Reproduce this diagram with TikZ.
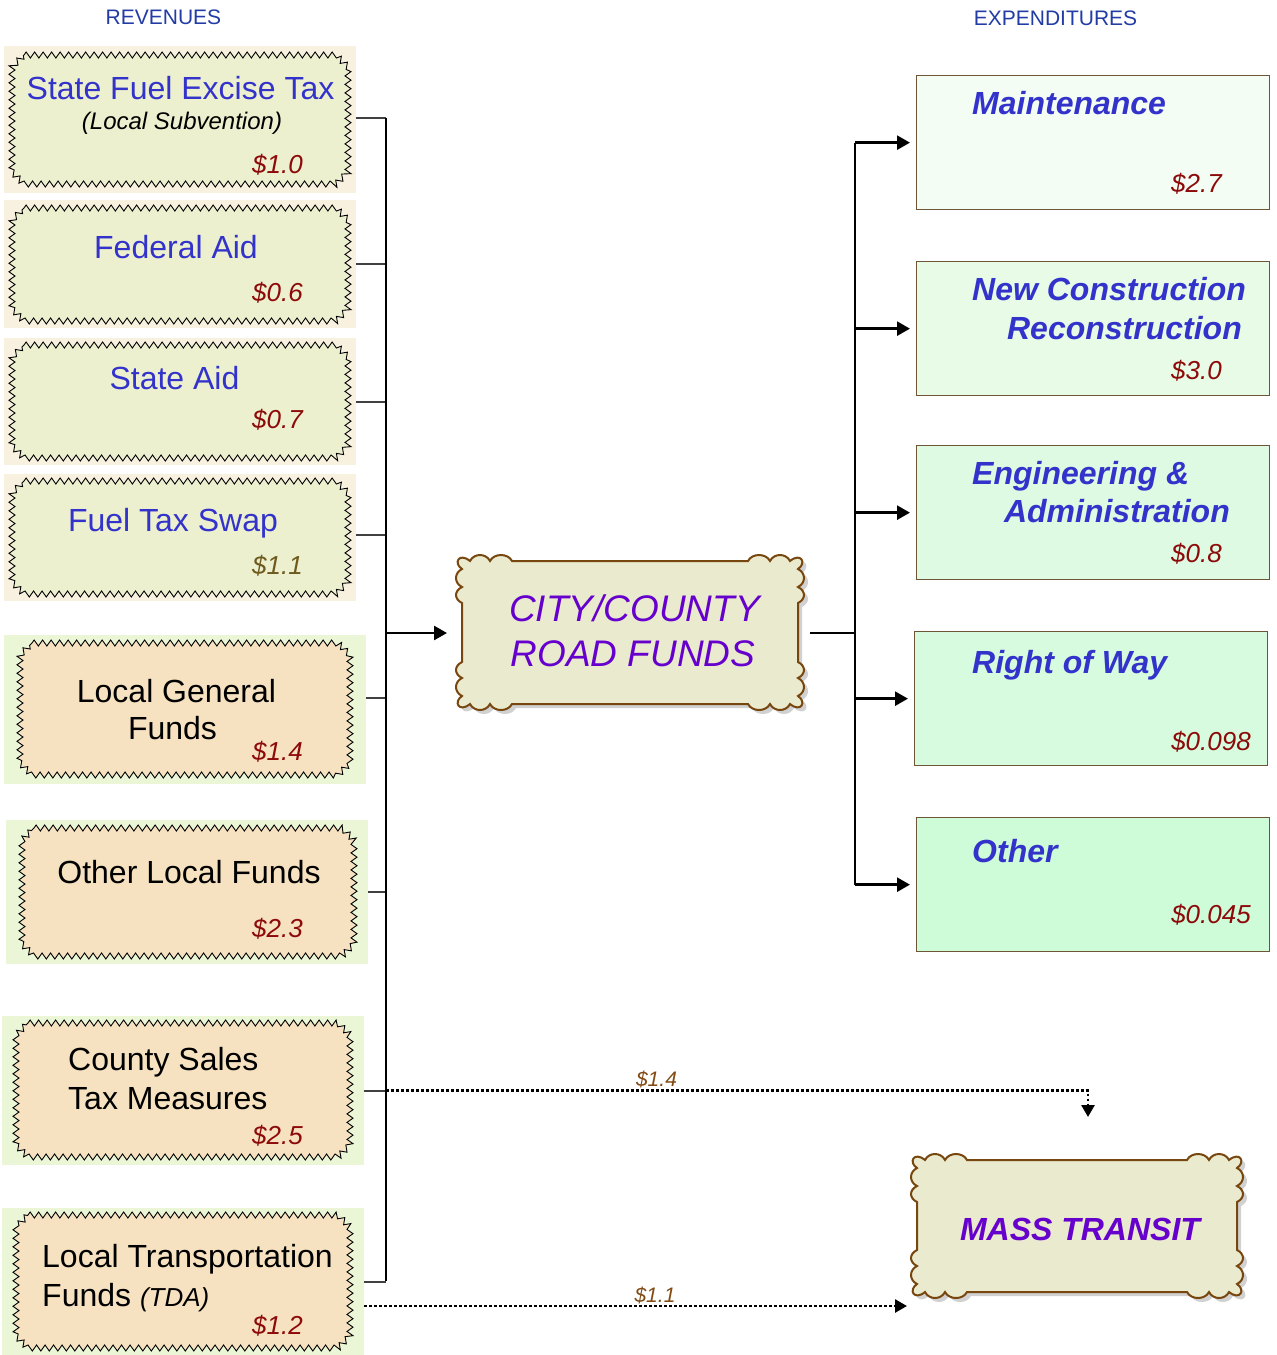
\documentclass[tikz,border=0pt]{standalone}
\usepackage{fontspec}
\setmainfont{Liberation Sans}
\usetikzlibrary{arrows.meta,decorations.pathmorphing,calc}
\definecolor{revblue}{RGB}{51,51,204}
\definecolor{hdrblue}{RGB}{35,60,165}
\definecolor{amtred}{RGB}{140,10,10}
\definecolor{amtolive}{RGB}{110,90,30}
\definecolor{purp}{RGB}{102,0,204}
\definecolor{scrollbrown}{RGB}{120,70,15}
\definecolor{scrollfill}{RGB}{234,234,206}
\definecolor{outerbeige}{RGB}{249,241,224}
\definecolor{innerpale}{RGB}{236,240,206}
\definecolor{outergreen}{RGB}{234,246,214}
\definecolor{innerwheat}{RGB}{246,226,192}
\definecolor{expborder}{RGB}{110,85,55}
\definecolor{expA}{RGB}{243,253,243}
\definecolor{expB}{RGB}{231,251,231}
\definecolor{expC}{RGB}{222,250,226}
\definecolor{expD}{RGB}{214,251,222}
\definecolor{expE}{RGB}{206,252,216}
\definecolor{lblbrown}{RGB}{130,75,20}
\newcommand\scrollshape[3]{%
\path[#3] (0,8) .. controls (-9,2) and (-3,-9) .. (8,0)
 .. controls (12,-8) and (24,-8) .. (28,0)
 .. controls (32,-8) and (46,-8) .. (50,0)
 -- ({#1-50},0)
 .. controls ({#1-46},-8) and ({#1-32},-8) .. ({#1-28},0)
 .. controls ({#1-24},-8) and ({#1-12},-8) .. ({#1-8},0)
 .. controls ({#1+3},-9) and ({#1+9},2) .. (#1,8)
 .. controls ({#1+8},12) and ({#1+8},22) .. (#1,26)
 .. controls ({#1+8},30) and ({#1+8},38) .. (#1,42)
 -- (#1,{#2-42})
 .. controls ({#1+8},{#2-38}) and ({#1+8},{#2-30}) .. (#1,{#2-26})
 .. controls ({#1+8},{#2-22}) and ({#1+8},{#2-12}) .. (#1,{#2-8})
 .. controls ({#1+9},{#2-2}) and ({#1+3},{#2+9}) .. ({#1-8},#2)
 .. controls ({#1-12},{#2+8}) and ({#1-24},{#2+8}) .. ({#1-28},#2)
 .. controls ({#1-32},{#2+8}) and ({#1-46},{#2+8}) .. ({#1-50},#2)
 -- (50,#2)
 .. controls (46,{#2+8}) and (32,{#2+8}) .. (28,#2)
 .. controls (24,{#2+8}) and (12,{#2+8}) .. (8,#2)
 .. controls (-3,{#2+9}) and (-9,{#2-2}) .. (0,{#2-8})
 .. controls (-8,{#2-12}) and (-8,{#2-22}) .. (0,{#2-26})
 .. controls (-8,{#2-30}) and (-8,{#2-38}) .. (0,{#2-42})
 -- (0,42)
 .. controls (-8,38) and (-8,30) .. (0,26)
 .. controls (-8,22) and (-8,12) .. (0,8) -- cycle;}
\newcommand\zigbox[5]{%
\filldraw[zz, fill=#5] ({#1+12},#2) -- ({#3-12},#2) -- (#3,{#2+12}) -- (#3,{#4-12})
 -- ({#3-12},#4) -- ({#1+12},#4) -- (#1,{#4-12}) -- (#1,{#2+12}) -- cycle;}
\begin{document}
\begin{tikzpicture}[x=1pt,y=-1pt,
  zz/.style={draw=black, line width=0.9pt, decorate,
     decoration={zigzag, segment length=8.5pt, amplitude=3pt}},
  outerbox/.style={draw=none, inner sep=0, anchor=north west},
  expbox/.style={draw=expborder, line width=1.3pt, inner sep=0, anchor=north west,
     minimum width=353pt, minimum height=134pt},
  hdr/.style={inner sep=0, anchor=base, text=hdrblue, font=\fontsize{21}{25}\selectfont},
  rt/.style={inner sep=0, anchor=base, text=revblue, font=\fontsize{32}{38}\selectfont},
  lt/.style={inner sep=0, anchor=base, text=black, font=\fontsize{32}{38}\selectfont},
  sub/.style={inner sep=0, anchor=base, text=black, font=\fontsize{24}{28}\selectfont\itshape},
  amt/.style={inner sep=0, anchor=base west, text=amtred, font=\fontsize{26}{30}\selectfont\itshape},
  et/.style={inner sep=0, anchor=base west, text=revblue, font=\fontsize{32}{38}\selectfont\bfseries\itshape},
  eamt/.style={inner sep=0, anchor=base east, text=amtred, font=\fontsize{26}{30}\selectfont\itshape},
  st/.style={inner sep=0, anchor=base, text=purp},
  flow/.style={inner sep=0, anchor=base, text=lblbrown, font=\fontsize{21}{24}\selectfont\itshape},
  stub/.style={draw=black!75, line width=1.6pt},
  bus/.style={draw=black, line width=1.8pt},
  arr/.style={draw=black, line width=2.6pt, -{Triangle[length=13pt,width=14pt]}},
  dotarr/.style={draw=black, line width=2.6pt, dash pattern=on 2.6pt off 2.4pt,
     -{Triangle[length=12pt,width=13pt]}}
]
\useasboundingbox (0,0) rectangle (1277,1355);
\fill[white] (0,0) rectangle (1277,1355);

% headers
\node[hdr] (hrev) at (163.5,24.5) {REVENUES};
\node[hdr] (hexp) at (1055.5,25.5) {EXPENDITURES};

% revenue boxes
\node[outerbox, fill=outerbeige, minimum width=352pt, minimum height=147pt] (r1) at (4,46) {};
\node[outerbox, fill=outerbeige, minimum width=352pt, minimum height=128pt] (r2) at (4,200) {};
\node[outerbox, fill=outerbeige, minimum width=352pt, minimum height=127pt] (r3) at (4,338) {};
\node[outerbox, fill=outerbeige, minimum width=352pt, minimum height=127pt] (r4) at (4,474) {};
\node[outerbox, fill=outergreen, minimum width=362pt, minimum height=149pt] (r5) at (4,635) {};
\node[outerbox, fill=outergreen, minimum width=362pt, minimum height=144pt] (r6) at (6,820) {};
\node[outerbox, fill=outergreen, minimum width=362pt, minimum height=149pt] (r7) at (2,1016) {};
\node[outerbox, fill=outergreen, minimum width=362pt, minimum height=147pt] (r8) at (2,1208) {};

\zigbox{12}{55}{348}{184}{innerpale}
\zigbox{12}{208}{348}{321}{innerpale}
\zigbox{12}{345}{348}{458}{innerpale}
\zigbox{12}{481}{348}{594}{innerpale}
\zigbox{20}{643}{350}{775}{innerwheat}
\zigbox{22}{828}{354}{956}{innerwheat}
\zigbox{16}{1023}{350}{1157}{innerwheat}
\zigbox{16}{1215}{350}{1348}{innerwheat}

% revenue texts
\node[rt] (t1) at (180.5,99) {State Fuel Excise Tax};
\node[sub] (t1b) at (182,129) {(Local Subvention)};
\node[amt] (a1) at (252,173) {\$1.0};
\node[rt] (t2) at (176,258) {Federal Aid};
\node[amt] (a2) at (252,301) {\$0.6};
\node[rt] (t3) at (174.5,389) {State Aid};
\node[amt] (a3) at (252,428) {\$0.7};
\node[rt] (t4) at (173,531) {Fuel Tax Swap};
\node[amt, text=amtolive] (a4) at (252,574) {\$1.1};
\node[lt] (t5) at (176.5,702) {Local General};
\node[lt] (t5b) at (172.5,739) {Funds};
\node[amt] (a5) at (252,760) {\$1.4};
\node[lt] (t6) at (189,883) {Other Local Funds};
\node[amt] (a6) at (252,937) {\$2.3};
\node[lt, anchor=base west] (t7) at (68,1070) {County Sales};
\node[lt, anchor=base west] (t7b) at (68,1109) {Tax Measures};
\node[amt] (a7) at (252,1144) {\$2.5};
\node[lt, anchor=base west] (t8) at (42,1267) {Local Transportation};
\node[lt, anchor=base west] (t8b) at (42,1306) {Funds {\fontsize{26}{30}\selectfont\itshape (TDA)}};
\node[amt] (a8) at (252,1334) {\$1.2};

% central scroll box
\node[inner sep=0, minimum width=336pt, minimum height=143pt, anchor=north west] (city) at (462,561) {};
\begin{scope}[shift={(city.north west)}]
  \scrollshape{336}{143}{fill=black!18, shift={(4,4)}}
  \scrollshape{336}{143}{fill=scrollfill, draw=scrollbrown, line width=2pt}
\end{scope}
\node[st, font=\fontsize{37}{44}\selectfont\itshape] (c1) at (634.5,621) {CITY/COUNTY};
\node[st, font=\fontsize{37}{44}\selectfont\itshape] (c2) at (633,666) {ROAD FUNDS};

% mass transit scroll box
\node[inner sep=0, minimum width=320pt, minimum height=132pt, anchor=north west] (mass) at (917,1160) {};
\begin{scope}[shift={(mass.north west)}]
  \scrollshape{320}{132}{fill=black!18, shift={(4,4)}}
  \scrollshape{320}{132}{fill=scrollfill, draw=scrollbrown, line width=2pt}
\end{scope}
\node[st, font=\fontsize{32}{38}\selectfont\bfseries\itshape] (m1) at (1080,1240) {MASS TRANSIT};

% expenditure boxes
\node[expbox, fill=expA] (e1) at (916,75) {};
\node[expbox, fill=expB] (e2) at (916,261) {};
\node[expbox, fill=expC] (e3) at (916,445) {};
\node[expbox, fill=expD] (e4) at (914,631) {};
\node[expbox, fill=expE] (e5) at (916,817) {};

\node[et] (x1) at (972,114) {Maintenance};
\node[eamt] (y1) at (1222,192) {\$2.7};
\node[et] (x2) at (972,300) {New Construction};
\node[et, anchor=base east] (x2b) at (1242,339) {Reconstruction};
\node[eamt] (y2) at (1222,379) {\$3.0};
\node[et] (x3) at (972,484) {Engineering \&};
\node[et, anchor=base east] (x3b) at (1230,522) {Administration};
\node[eamt] (y3) at (1222,562) {\$0.8};
\node[et] (x4) at (972,673) {Right of Way};
\node[eamt] (y4) at (1251,750) {\$0.098};
\node[et] (x5) at (972,862) {Other};
\node[eamt] (y5) at (1251,923) {\$0.045};

% left bus
\coordinate (bt) at (386,118);
\coordinate (bb) at (386,1281);
\coordinate (bm) at (386,633);
\draw[stub] (r1.east |- bt) -- (bt);
\draw[stub] (r2.east) -- (r2.east -| bt);
\draw[stub] (r3.east) -- (r3.east -| bt);
\draw[stub] ($(r4.east)+(0,-3)$) -- ($(r4.east -| bt)+(0,-3)$);
\draw[stub] ($(r5.east)+(0,-12)$) -- ($(r5.east -| bt)+(0,-12)$);
\draw[stub] (r6.east) -- (r6.east -| bt);
\draw[stub] (r7.east) -- (r7.east -| bt);
\draw[stub] (r8.east) -- (r8.east -| bb);
\draw[bus] (bt) -- (bb);
\draw[arr, shorten >=15pt] (bm) -- (bm -| city.west);

% right bus
\coordinate (rt) at (855,143);
\draw[bus, shorten <=12pt] (city.east) -- (city.east -| rt);
\draw[bus] (e1.west -| rt) -- (e5.west -| rt);
\draw[arr, shorten >=6pt] (e1.west -| rt) -- (e1.west);
\draw[arr, shorten >=6pt] (e2.west -| rt) -- (e2.west);
\draw[arr, shorten >=6pt] (e3.west -| rt) -- (e3.west);
\draw[arr, shorten >=6pt] (e4.west -| rt) -- (e4.west);
\draw[arr, shorten >=6pt] (e5.west -| rt) -- (e5.west);

% dotted flows to mass transit
\coordinate (dm) at (1088,1117);
\draw[dotarr] (r7.east -| bt) -| (dm);
\node[flow] (f1) at (656.5,1086) {\$1.4};
\coordinate (d2) at (364,1306);
\draw[dotarr, shorten >=10pt] (d2) -- (d2 -| mass.west);
\node[flow] (f2) at (655,1302) {\$1.1};
\end{tikzpicture}
\end{document}
